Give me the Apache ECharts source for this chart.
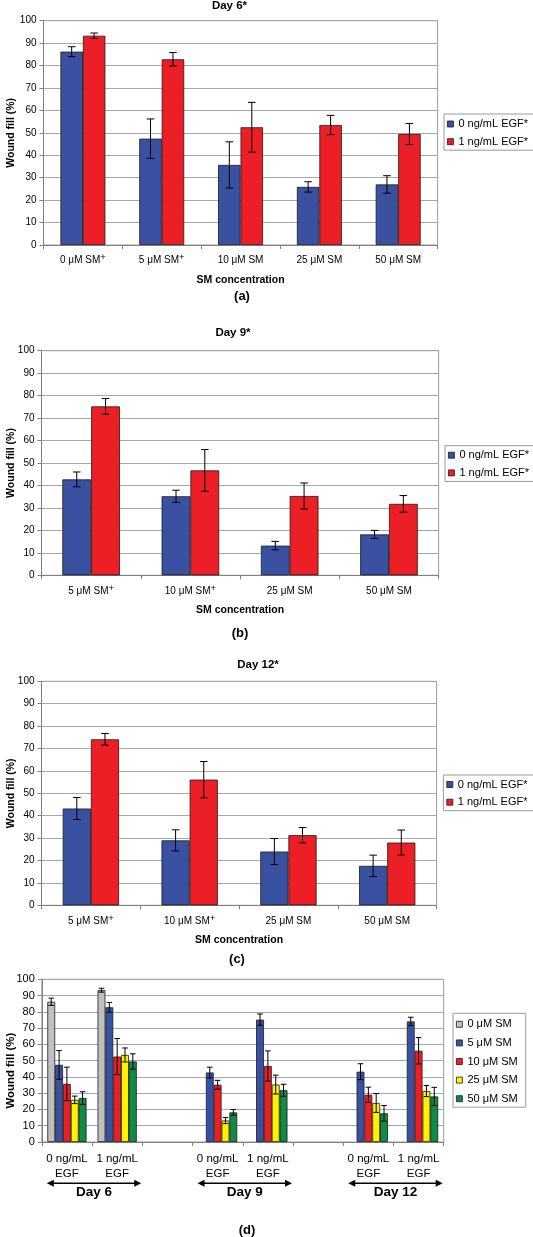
<!DOCTYPE html>
<html><head><meta charset="utf-8">
<script src="https://cdn.jsdelivr.net/npm/echarts@6/dist/echarts.min.js"></script>
<style>html,body{margin:0;padding:0;background:#fff}#c{width:533px;height:1237px}</style>
</head><body><div id="c"></div>
<script>
// ---------- DATA ----------
const catsA = ['0 μM SM+', '5 μM SM+', '10 μM SM', '25 μM SM', '50 μM SM'];
const catsBC = ['5 μM SM+', '10 μM SM+', '25 μM SM', '50 μM SM'];
const egfNames = ['0 ng/mL EGF*', '1 ng/mL EGF*'];
const concNames = ['0 μM SM', '5 μM SM', '10 μM SM', '25 μM SM', '50 μM SM'];
const catsD = ['0 ng/mL\nEGF', '1 ng/mL\nEGF', ' ', '0 ng/mL\nEGF', '1 ng/mL\nEGF', '  ', '0 ng/mL\nEGF', '1 ng/mL\nEGF'];
const dayLabels = ['Day 6', 'Day 9', 'Day 12'];
const yTicks = [0, 100, 10];

// Day 6
const day6_egf0 = [86.2, 47.4, 35.7, 25.9, 27.0];
const day6_egf0_err = [2.2, 8.8, 10.3, 2.3, 3.9];
const day6_egf1 = [93.3, 82.8, 52.5, 53.5, 49.5];
const day6_egf1_err = [1.2, 3.0, 11.1, 4.3, 4.7];
// Day 9
const day9_egf0 = [42.7, 35.2, 13.2, 18.2];
const day9_egf0_err = [3.3, 2.7, 1.9, 1.8];
const day9_egf1 = [75.2, 46.7, 35.3, 31.8];
const day9_egf1_err = [3.5, 9.3, 5.8, 3.7];
// Day 12
const day12_egf0 = [43.2, 29.0, 24.0, 17.6];
const day12_egf0_err = [4.9, 4.7, 5.8, 4.8];
const day12_egf1 = [74.1, 56.1, 31.3, 28.0];
const day12_egf1_err = [2.6, 8.1, 3.4, 5.6];

// ---------- STYLE ----------
const FONT = 'Liberation Sans, Arial, sans-serif';
const egfColors = ['#3A51A2', '#ED1F26'];
const concColors = ['#C0C0C0', '#3A51A2', '#ED1F26', '#FFF200', '#0E8B45'];
const gridCol = '#A8A8A8';

const grids = [
  { left: 43.5, top: 20.7, width: 394.1, height: 224.3 },
  { left: 41.5, top: 350.7, width: 397.1, height: 224.6 },
  { left: 41.5, top: 681.3, width: 395.1, height: 224.0 },
  { left: 41.8, top: 979.3, width: 401.9, height: 162.7 }
].map(g => Object.assign({ show: true, borderColor: '#9A9A9A', borderWidth: 1, backgroundColor: 'transparent', outerBoundsMode: 'none', containLabel: false }, g));

function yAxis(gi, fs, nameFs, namePad, gapName) {
  return {
    type: 'value', gridIndex: gi, min: yTicks[0], max: yTicks[1], interval: yTicks[2],
    name: 'Wound fill (%)', nameLocation: 'middle', nameGap: gapName, nameMoveOverlap: false,
    nameTextStyle: { fontFamily: FONT, fontSize: nameFs, fontWeight: 'bold', color: '#000', padding: namePad },
    axisLine: { show: true, lineStyle: { color: '#808080', width: 1 } },
    axisTick: { show: true, length: 4, lineStyle: { color: '#808080' } },
    axisLabel: { fontFamily: FONT, fontSize: fs, color: '#000', margin: 7 },
    splitLine: { show: true, lineStyle: { color: gridCol, width: 1 } }
  };
}
function supFormatter(v) {
  return v.charAt(v.length - 1) === '+' ? v.slice(0, -1) + '{s|+}' : v;
}
function xAxis(gi, cats, fs, withName, extra) {
  const ax = {
    type: 'category', gridIndex: gi, data: cats,
    axisLine: { show: true, lineStyle: { color: '#808080', width: 1 } },
    axisTick: { show: true, length: 4, interval: 0, lineStyle: { color: '#808080' } },
    axisLabel: { fontFamily: FONT, fontSize: fs, color: '#000', margin: 7.7, interval: 0, lineHeight: 16,
      formatter: supFormatter,
      rich: { s: { fontFamily: FONT, fontSize: 9.5, color: '#000', lineHeight: 9, verticalAlign: 'top' } } },
    splitLine: { show: false }
  };
  if (withName) {
    ax.name = 'SM concentration';
    ax.nameLocation = 'middle';
    ax.nameGap = 29.5;
    ax.nameMoveOverlap = false;
    ax.nameTextStyle = { fontFamily: FONT, fontSize: 10.5, fontWeight: 'bold', color: '#000' };
  }
  return Object.assign(ax, extra || {});
}

const series = [];
function addGroup(gi, names, colors, valueSets, errSets, gap, cap) {
  const n = names.length;
  names.forEach((nm, k) => {
    series.push({
      type: 'bar', name: nm, xAxisIndex: gi, yAxisIndex: gi,
      data: valueSets[k],
      barGap: '0%', barCategoryGap: (gap * 100) + '%',
      itemStyle: { color: colors[k], borderColor: '#1a1a1a', borderWidth: 0.8 },
      emphasis: { disabled: true }, z: 2
    });
    const data = [];
    valueSets[k].forEach((v, i) => { if (v != null) data.push([i, v, errSets[k][i]]); });
    series.push({
      type: 'custom', name: 'err-' + gi + '-' + k, xAxisIndex: gi, yAxisIndex: gi,
      encode: { x: 0, y: 1 }, data: data, silent: true, z: 5,
      renderItem: function (params, api) {
        const idx = api.value(0), v = api.value(1), e = api.value(2);
        const c = api.coord([idx, v]);
        const bw = api.size([1, 0])[0];
        const total = bw * (1 - gap);
        const w = total / n;
        const x = c[0] - total / 2 + w * (k + 0.5);
        const yt = api.coord([idx, v + e])[1];
        const yb = api.coord([idx, v - e])[1];
        const st = { stroke: '#000', lineWidth: 1 };
        return { type: 'group', children: [
          { type: 'line', shape: { x1: x, y1: yt, x2: x, y2: yb }, style: st },
          { type: 'line', shape: { x1: x - cap, y1: yt, x2: x + cap, y2: yt }, style: st },
          { type: 'line', shape: { x1: x - cap, y1: yb, x2: x + cap, y2: yb }, style: st }
        ] };
      }
    });
  });
}

addGroup(0, egfNames, egfColors, [day6_egf0, day6_egf1], [day6_egf0_err, day6_egf1_err], 0.43, 3.8);
addGroup(1, egfNames, egfColors, [day9_egf0, day9_egf1], [day9_egf0_err, day9_egf1_err], 0.42, 3.8);
addGroup(2, egfNames, egfColors, [day12_egf0, day12_egf1], [day12_egf0_err, day12_egf1_err], 0.43, 3.8);

// Panel (d): series by SM concentration, categories by EGF / day
const dVals = [], dErrs = [];
concNames.forEach((c, ci) => {
  const v = [], e = [];
  const j = ci - 1; // index into day 9 / day 12 arrays
  v.push(day6_egf0[ci], day6_egf1[ci], null);
  e.push(day6_egf0_err[ci], day6_egf1_err[ci], null);
  v.push(j >= 0 ? day9_egf0[j] : null, j >= 0 ? day9_egf1[j] : null, null);
  e.push(j >= 0 ? day9_egf0_err[j] : null, j >= 0 ? day9_egf1_err[j] : null, null);
  v.push(j >= 0 ? day12_egf0[j] : null, j >= 0 ? day12_egf1[j] : null);
  e.push(j >= 0 ? day12_egf0_err[j] : null, j >= 0 ? day12_egf1_err[j] : null);
  dVals.push(v); dErrs.push(e);
});
addGroup(3, concNames, concColors, dVals, dErrs, 0.22, 2.8);

function legend(names, left, top, pad, fs, gap) {
  return {
    data: names, orient: 'vertical', left: left, top: top, padding: pad,
    itemWidth: 6, itemHeight: 6, itemGap: gap, icon: 'rect',
    backgroundColor: '#fff', borderColor: '#9A9A9A', borderWidth: 1, borderRadius: 0,
    selectedMode: false,
    textStyle: { fontFamily: FONT, fontSize: fs, color: '#000', lineHeight: 11 },
    itemStyle: { borderColor: '#1a1a1a', borderWidth: 0.8 }
  };
}

function title(text, x, yc, fs) {
  return { text: text, left: x, top: yc - fs / 2, textAlign: 'center', padding: 0,
    textStyle: { fontFamily: FONT, fontSize: fs, fontWeight: 'bold', color: '#000' } };
}

const option = {
  animation: false,
  backgroundColor: '#fff',
  title: [
    title('Day 6*', 229.5, 6, 11.5),
    title('(a)', 242, 296.7, 13),
    title('Day 9*', 233, 332.3, 11.5),
    title('(b)', 240, 633.3, 13),
    title('Day 12*', 258, 665, 11.5),
    title('(c)', 237, 959.7, 13),
    title('(d)', 247, 1230.7, 13)
  ],
  legend: [
    legend(egfNames, 444, 114, [4.5, 12, 3, 3], 11, 6.7),
    legend(egfNames, 445, 445.7, [4, 12, 3, 3], 11, 6.7),
    legend(egfNames, 443.4, 775, [4, 12, 3, 3], 11, 6.7),
    legend(concNames, 453, 1013.3, [5.5, 8, 3, 3], 11, 7.6)
  ],
  grid: grids,
  xAxis: [
    xAxis(0, catsA, 10, true),
    xAxis(1, catsBC, 10, true),
    xAxis(2, catsBC, 10, true),
    xAxis(3, catsD, 11.5, false, { axisLabel: { fontFamily: FONT, fontSize: 11.5, color: '#000', margin: 9.5, interval: 0, lineHeight: 15 } })
  ],
  yAxis: [
    yAxis(0, 10, 10.5, 0, 27),
    yAxis(1, 10, 10.5, 0, 25),
    yAxis(2, 10, 10.5, 0, 25),
    yAxis(3, 11, 11.4, [0, 20, 0, 0], 25)
  ],
  series: series
};

const chart = echarts.init(document.getElementById('c'), null, { renderer: 'canvas' });
chart.setOption(option);

// Day arrows under panel (d), placed from the category axis scale
const x0 = chart.convertToPixel({ xAxisIndex: 3 }, 0);
const x1 = chart.convertToPixel({ xAxisIndex: 3 }, 1);
const bw = x1 - x0;
const arrowY = 1183.3, head = 7, hh = 3.5;
const gEls = [];
[[0, 1], [3, 4], [6, 7]].forEach((pair, di) => {
  const a = chart.convertToPixel({ xAxisIndex: 3 }, pair[0]) - bw / 2 + 5;
  const b = chart.convertToPixel({ xAxisIndex: 3 }, pair[1]) + bw / 2 - 1;
  gEls.push({ type: 'line', shape: { x1: a + head - 1, y1: arrowY, x2: b - head + 1, y2: arrowY }, style: { stroke: '#000', lineWidth: 1.6 } });
  gEls.push({ type: 'polygon', shape: { points: [[a, arrowY], [a + head, arrowY - hh], [a + head, arrowY + hh]] }, style: { fill: '#000' } });
  gEls.push({ type: 'polygon', shape: { points: [[b, arrowY], [b - head, arrowY - hh], [b - head, arrowY + hh]] }, style: { fill: '#000' } });
  gEls.push({ type: 'text', x: (a + b) / 2, y: 1192.3, style: { text: dayLabels[di], font: 'bold 13.5px ' + FONT, fill: '#000', textAlign: 'center', textVerticalAlign: 'middle' } });
});
chart.setOption({ graphic: gEls });
</script>
</body></html>
